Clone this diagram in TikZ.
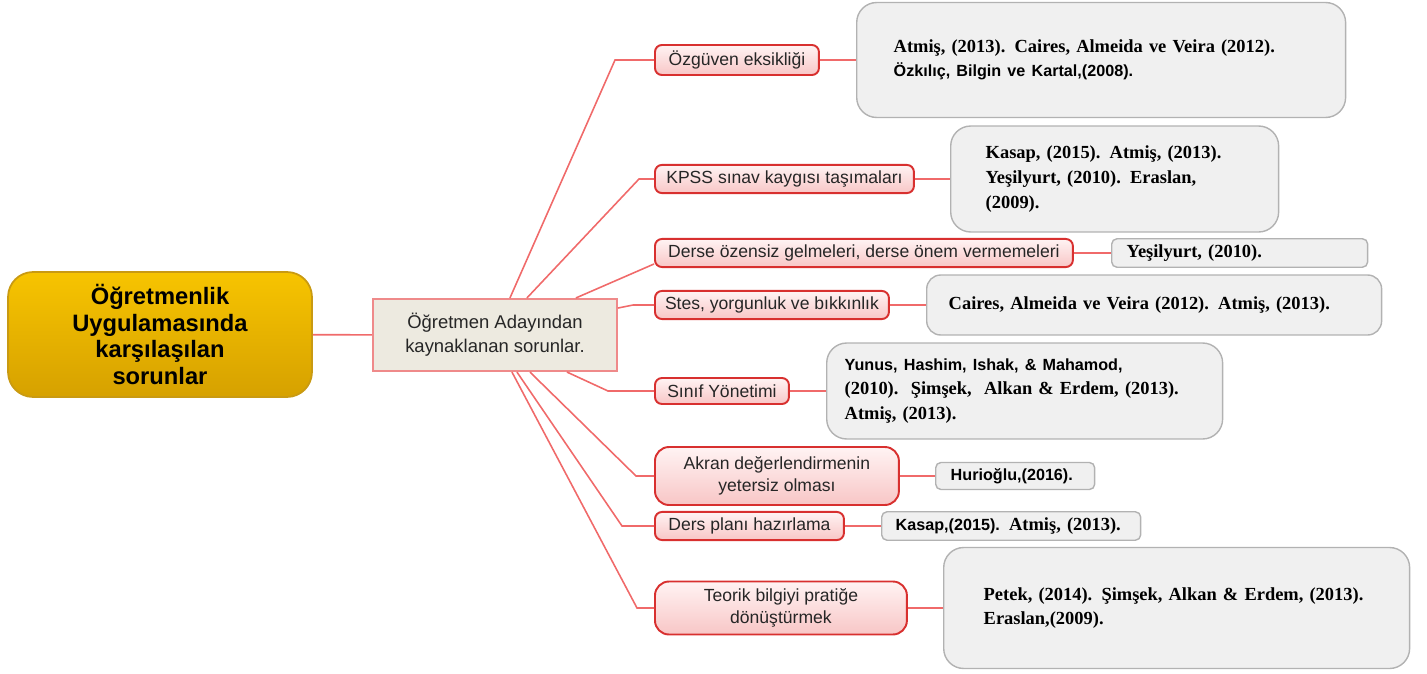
\documentclass[tikz,border=0pt]{standalone}
\usepackage{fontspec}
\setmainfont{Liberation Serif}
\setsansfont{Liberation Sans}
\usepackage{tikz}
\usetikzlibrary{arrows, positioning}
\tikzset{>=stealth}

\definecolor{altinust}{HTML}{F7C400}
\definecolor{altinalt}{HTML}{D6A100}
\definecolor{altincizgi}{HTML}{C99A12}
\definecolor{adayfill}{HTML}{EDEAE0}
\definecolor{adaycizgi}{HTML}{EF8A8A}
\definecolor{kirmizi}{HTML}{D8302F}
\definecolor{pembeust}{HTML}{FFF3F3}
\definecolor{pembealt}{HTML}{F8C6C6}
\definecolor{cizgi}{HTML}{F06A6A}
\definecolor{kaynakfill}{HTML}{F0F0F0}
\definecolor{kaynakcizgi}{HTML}{B2B2B2}

\begin{document}
\begin{tikzpicture}[x=0.02cm, y=-0.02cm,
	ana/.style={draw=altincizgi, line width=1pt, rounded corners=0.5cm, top color=altinust, bottom color=altinalt,
		minimum width=6.08cm, minimum height=2.5cm, align=center, font=\sffamily\bfseries\fontsize{13.5}{15.3}\selectfont},
	aday/.style={draw=adaycizgi, line width=1.2pt, fill=adayfill, minimum width=4.88cm, minimum height=1.44cm,
		align=center, text=black!85, font=\sffamily\fontsize{10.5}{13.6}\selectfont},
	konu/.style={draw=kirmizi, line width=1.1pt, rounded corners=4pt, top color=pembeust, bottom color=pembealt,
		minimum height=0.52cm, anchor=west, align=center, text=black!85, font=\sffamily\fontsize{10}{12.5}\selectfont},
	konu2/.style={konu, rounded corners=8pt},
	kaynak/.style={draw=kaynakcizgi, line width=0.8pt, fill=kaynakfill, rounded corners=0.4cm, anchor=west,
		align=left, font=\bfseries\fontsize{10.5}{14}\selectfont},
	kucuk/.style={kaynak, rounded corners=3pt, minimum height=0.52cm, inner xsep=0.3cm},
	kol/.style={draw=cizgi, line width=0.9pt}]

	\useasboundingbox (0,0) rectangle (1427,673);

	\node[ana]	(K0)	at	(160,334.5)	{Öğretmenlik\\Uygulamasında\\karşılaşılan\\sorunlar};
	\node[aday]	(A0)	at	(495,335)	{Öğretmen Adayından\\kaynaklanan sorunlar.};

	\node[konu, minimum width=3.28cm]	(S1)	at	(654,60)	{Özgüven eksikliği};
	\node[konu, minimum width=5.18cm]	(S2)	at	(654,179)	{KPSS sınav kaygısı taşımaları};
	\node[konu, minimum width=8.36cm]	(S3)	at	(654,253)	{Derse özensiz gelmeleri, derse önem vermemeleri};
	\node[konu, minimum width=4.68cm]	(S4)	at	(654,305)	{Stes, yorgunluk ve bıkkınlık};
	\node[konu, minimum width=2.68cm]	(S5)	at	(654,391)	{Sınıf Yönetimi};
	\node[konu2, minimum width=4.88cm, minimum height=1.16cm]	(S6)	at	(654,476)	{Akran değerlendirmenin\\yetersiz olması};
	\node[konu, minimum width=3.78cm]	(S7)	at	(654,526)	{Ders planı hazırlama};
	\node[konu2, minimum width=5.04cm, minimum height=1.06cm]	(S8)	at	(654,608)	{Teorik bilgiyi pratiğe\\dönüştürmek};

	\node[kaynak, text width=8.3cm, inner xsep=0.74cm, minimum height=2.3cm]	(R1)	at	(856,60)
		{Atmiş, (2013). Caires, Almeida ve Veira (2012).\\{\sffamily\fontsize{9.2}{14}\selectfont Özkılıç, Bilgin ve Kartal,(2008).}};
	\node[kaynak, text width=5.16cm, inner xsep=0.7cm, minimum height=2.12cm]	(R2)	at	(950,179)
		{Kasap, (2015). Atmiş, (2013).\\Yeşilyurt, (2010). Eraslan,\\(2009).};
	\node[kucuk, text width=4.52cm]	(R3)	at	(1111,253)	{Yeşilyurt, (2010).};
	\node[kaynak, rounded corners=0.28cm, text width=8.22cm, inner xsep=0.44cm, minimum height=1.2cm]	(R4)	at	(926,305)
		{Caires, Almeida ve Veira (2012). Atmiş, (2013).};
	\node[kaynak, text width=7.2cm, inner xsep=0.36cm, minimum height=1.92cm]	(R5)	at	(826,391)
		{{\sffamily\fontsize{9.2}{14}\selectfont Yunus, Hashim, Ishak, \& Mahamod,}\\(2010).\ \ Şimşek,\ \ Alkan \& Erdem, (2013).\\Atmiş, (2013).};
	\node[kucuk, text width=2.58cm]	(R6)	at	(935,476)	{\sffamily\fontsize{9.2}{12}\selectfont Hurioğlu,(2016).};
	\node[kucuk, text width=4.62cm, inner xsep=0.28cm]	(R7)	at	(881,526)
		{{\sffamily\fontsize{9.2}{12}\selectfont Kasap,(2015).} Atmiş, (2013).};
	\node[kaynak, text width=7.72cm, inner xsep=0.8cm, minimum height=2.42cm]	(R8)	at	(943,608)
		{Petek, (2014). Şimşek, Alkan \& Erdem, (2013).\\Eraslan,(2009).};

	\draw[kol] (K0) -- (A0);

	\draw[kol] ([xshift=2.76cm]A0.north west) -- ([xshift=-0.78cm]S1.west) -- (S1.west);
	\draw[kol] ([xshift=3.1cm]A0.north west) -- ([xshift=-0.3cm]S2.west) -- (S2.west);
	\draw[kol] ([xshift=4.08cm]A0.north west) -- ([yshift=-0.22cm]S3.west);
	\draw[kol] ([yshift=0.54cm]A0.east) -- ([xshift=-0.42cm]S4.west) -- (S4.west);
	\draw[kol] ([xshift=3.9cm]A0.south west) -- ([xshift=-0.92cm]S5.west) -- (S5.west);
	\draw[kol] ([xshift=3.16cm]A0.south west) -- ([xshift=-0.36cm]S6.west) -- (S6.west);
	\draw[kol] ([xshift=2.9cm]A0.south west) -- ([xshift=-0.64cm]S7.west) -- (S7.west);
	\draw[kol] ([xshift=2.8cm]A0.south west) -- ([xshift=-0.34cm]S8.west) -- (S8.west);

	\draw[kol] (S1) -- (R1);
	\draw[kol] (S2) -- (R2);
	\draw[kol] (S3) -- (R3);
	\draw[kol] (S4) -- (R4);
	\draw[kol] (S5) -- (R5);
	\draw[kol] (S6) -- (R6);
	\draw[kol] (S7) -- (R7);
	\draw[kol] (S8) -- (R8);
\end{tikzpicture}
\end{document}
